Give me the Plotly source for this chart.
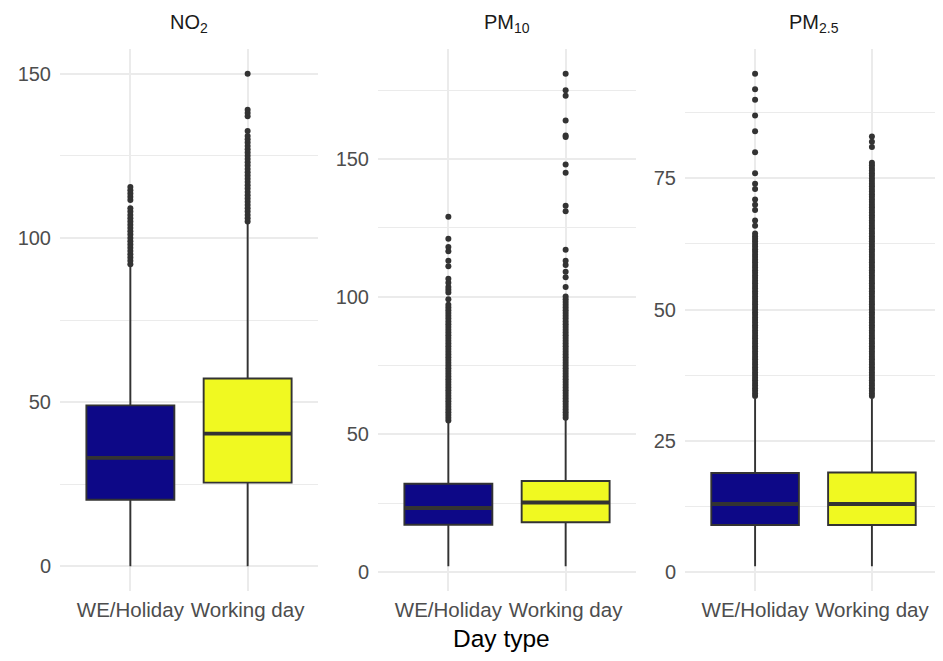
import plotly.graph_objects as go

# ---------------- data ----------------
categories = ["WE/Holiday", "Working day"]
panel_titles = ["NO<sub>2</sub>", "PM<sub>10</sub>", "PM<sub>2.5</sub>"]
fill_colors = ["#0d0887", "#f0f921"]

# NO2
no2_q1 = [20.3, 25.5]
no2_median = [33.0, 40.4]
no2_q3 = [49.0, 57.2]
no2_lower = [0.0, 0.0]
no2_upper = [91.5, 104.5]
no2_out_we = [92, 93, 94, 95, 96, 97, 98, 99, 100, 101, 102, 103, 104, 105, 106, 107,
              108, 109, 111.5, 112.5, 113.5, 114.5, 115.5]
no2_out_wd = [105, 106, 107, 108, 109, 110, 111, 112, 113, 114, 115, 116, 117, 118, 119,
              120, 121, 122, 123, 124, 125, 126, 127, 128, 129, 130, 131, 132.5, 137,
              138, 139, 150]
no2_ticks = [0, 50, 100, 150]

# PM10
pm10_q1 = [17.1, 18.0]
pm10_median = [23.2, 25.2]
pm10_q3 = [32.0, 33.0]
pm10_lower = [2.0, 2.0]
pm10_upper = [54.5, 55.5]
pm10_out_we = [55, 56, 57, 58, 59, 60, 61, 62, 63, 64, 65, 66, 67, 68, 69, 70, 71, 72,
               73, 74, 75, 76, 77, 78, 79, 80, 81, 82, 83, 84, 85, 86, 87, 88, 89, 90,
               91, 92, 93, 94, 95, 96, 97, 99, 101.5, 102.5, 103.5, 105, 106.5, 111,
               113, 116.5, 118, 121, 129]
pm10_out_wd = [56, 57, 58, 59, 60, 61, 62, 63, 64, 65, 66, 67, 68, 69, 70, 71, 72, 73,
               74, 75, 76, 77, 78, 79, 80, 81, 82, 83, 84, 85, 86, 87, 88, 89, 90, 91,
               92, 93, 94, 95, 96, 97, 98, 99, 100, 103.5, 107, 109, 111.5, 113, 117,
               131, 133, 145, 148, 158, 158.5, 164, 173, 175, 181]
pm10_ticks = [0, 50, 100, 150]

# PM2.5
pm25_q1 = [8.9, 8.9]
pm25_median = [12.9, 12.9]
pm25_q3 = [18.8, 18.9]
pm25_lower = [1.0, 1.0]
pm25_upper = [33.0, 33.0]
pm25_out_we = [33.5, 34, 34.5, 35, 35.5, 36, 36.5, 37, 37.5, 38, 38.5, 39, 39.5, 40,
               40.5, 41, 41.5, 42, 42.5, 43, 43.5, 44, 44.5, 45, 45.5, 46, 46.5, 47,
               47.5, 48, 48.5, 49, 49.5, 50, 50.5, 51, 51.5, 52, 52.5, 53, 53.5, 54,
               54.5, 55, 55.5, 56, 56.5, 57, 57.5, 58, 58.5, 59, 59.5, 60, 60.5, 61,
               61.5, 62, 62.5, 63, 63.5, 64, 64.5, 66, 67, 69, 70, 71, 73, 74, 76, 80,
               84, 87, 90, 92, 95]
pm25_out_wd = [33.5, 34, 34.5, 35, 35.5, 36, 36.5, 37, 37.5, 38, 38.5, 39, 39.5, 40,
               40.5, 41, 41.5, 42, 42.5, 43, 43.5, 44, 44.5, 45, 45.5, 46, 46.5, 47,
               47.5, 48, 48.5, 49, 49.5, 50, 50.5, 51, 51.5, 52, 52.5, 53, 53.5, 54,
               54.5, 55, 55.5, 56, 56.5, 57, 57.5, 58, 58.5, 59, 59.5, 60, 60.5, 61,
               61.5, 62, 62.5, 63, 63.5, 64, 64.5, 65, 65.5, 66, 66.5, 67, 67.5, 68,
               68.5, 69, 69.5, 70, 70.5, 71, 71.5, 72, 72.5, 73, 73.5, 74, 74.5, 75,
               75.5, 76, 76.5, 77, 77.5, 78, 81, 82, 83]
pm25_ticks = [0, 25, 50, 75]

panels = [
    (no2_q1, no2_median, no2_q3, no2_lower, no2_upper, [no2_out_we, no2_out_wd], no2_ticks),
    (pm10_q1, pm10_median, pm10_q3, pm10_lower, pm10_upper, [pm10_out_we, pm10_out_wd], pm10_ticks),
    (pm25_q1, pm25_median, pm25_q3, pm25_lower, pm25_upper, [pm25_out_we, pm25_out_wd], pm25_ticks),
]

# ---------------- layout geometry ----------------
# page body has an 8px default margin, so the figure is drawn 8px in from top/left
W, H = 935, 653
ML, MR, MT, MB = 52, 1, 41, 70
pw = W - ML - MR
panel_px = [(60, 318), (378, 636), (685, 942)]   # page pixel positions of panels
domains = [[(a - 8 - ML) / pw, (b - 8 - ML) / pw] for a, b in panel_px]

DARK = "#333333"
GRID = "#ebebeb"
FONT = "Liberation Sans, Arial, Helvetica, sans-serif"
BOXW = 0.75

fig = go.Figure()
layout = dict(
    width=W, height=H,
    margin=dict(l=ML, r=MR, t=MT, b=MB),
    plot_bgcolor="white", paper_bgcolor="white",
    showlegend=False,
    font=dict(family=FONT),
    annotations=[],
)

for p, (q1, med, q3, lo, hi, outs, ticks) in enumerate(panels):
    xa = "x" if p == 0 else f"x{p+1}"
    ya = "y" if p == 0 else f"y{p+1}"
    for i, cat in enumerate(categories):
        xpos = i + 1
        fig.add_trace(go.Box(
            x=[xpos], q1=[q1[i]], median=[med[i]], q3=[q3[i]],
            lowerfence=[lo[i]], upperfence=[hi[i]],
            width=BOXW, whiskerwidth=0,
            fillcolor=fill_colors[i],
            line=dict(color=DARK, width=1.9),
            boxpoints=False,
            xaxis=xa, yaxis=ya, hoverinfo="skip",
        ))
        # thicker median line (ggplot style)
        fig.add_trace(go.Scatter(
            x=[xpos - BOXW / 2, xpos + BOXW / 2], y=[med[i], med[i]],
            mode="lines", line=dict(color=DARK, width=3.8),
            xaxis=xa, yaxis=ya, hoverinfo="skip",
        ))
        fig.add_trace(go.Scatter(
            x=[xpos] * len(outs[i]), y=outs[i], mode="markers",
            marker=dict(color=DARK, size=6, line=dict(width=0)),
            xaxis=xa, yaxis=ya, hoverinfo="skip",
        ))

    all_vals = lo + outs[0] + outs[1]
    vmin, vmax = min(all_vals), max(all_vals)
    pad = 0.05 * (vmax - vmin)
    major = ticks[1] - ticks[0]

    xkey = "xaxis" if p == 0 else f"xaxis{p+1}"
    ykey = "yaxis" if p == 0 else f"yaxis{p+1}"
    layout[xkey] = dict(
        domain=domains[p], anchor=ya, range=[0.4, 2.6],
        tickvals=[1, 2], ticktext=categories,
        showgrid=True, gridcolor=GRID, gridwidth=2,
        zeroline=False, showline=False, ticks="",
        tickfont=dict(size=20.5, color="#4d4d4d", family=FONT),
        ticklabelstandoff=4,
    )
    layout[ykey] = dict(
        domain=[0, 1], anchor=xa, range=[vmin - pad, vmax + pad],
        tickvals=ticks, showgrid=True, gridcolor=GRID, gridwidth=2,
        zeroline=False, showline=False, ticks="",
        tickfont=dict(size=20, color="#4d4d4d", family=FONT),
        ticklabelstandoff=8,
        minor=dict(dtick=major / 2, tick0=0, showgrid=True, gridcolor=GRID, gridwidth=1),
    )
    layout["annotations"].append(dict(
        text=panel_titles[p], xref="paper", yref="paper",
        x=(domains[p][0] + domains[p][1]) / 2, y=1, yanchor="middle", xanchor="center",
        yshift=26, showarrow=False,
        font=dict(size=20, color="#1a1a1a", family=FONT),
    ))

layout["annotations"].append(dict(
    text="Day type", xref="paper", yref="paper", x=0.5, y=0,
    xanchor="center", yanchor="middle", yshift=-47, showarrow=False,
    font=dict(size=24.5, color="black", family=FONT),
))

fig.update_layout(**layout)
fig.write_html("out.html")
